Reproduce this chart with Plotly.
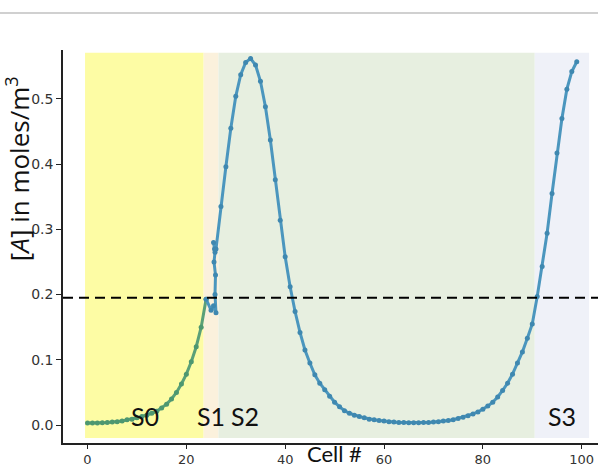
import plotly.graph_objects as go

# ---- data ----
green_x = list(range(0, 25))
green_y = [0.003, 0.003, 0.003, 0.0035, 0.004, 0.0045, 0.005, 0.006, 0.008, 0.009,
           0.011, 0.013, 0.015, 0.018, 0.021, 0.026, 0.032, 0.040, 0.050, 0.063,
           0.078, 0.097, 0.120, 0.150, 0.193]

blue_x = [24, 25, 25.5, 26.0, 25.8, 25.9, 25.6, 25.8, 25.5, 25.7, 26] + list(range(27, 100))
blue_y = [0.193, 0.176, 0.183, 0.172, 0.20, 0.23, 0.25, 0.265, 0.28, 0.27, 0.27,
          0.335, 0.396, 0.455, 0.504, 0.537, 0.556, 0.562, 0.552, 0.527, 0.488,
          0.437, 0.376, 0.314, 0.258, 0.212, 0.174, 0.142, 0.115, 0.095, 0.077,
          0.064, 0.054, 0.044, 0.035, 0.028, 0.022, 0.018, 0.015, 0.013, 0.011,
          0.009, 0.008, 0.007, 0.006, 0.005, 0.0045, 0.004, 0.0037, 0.0035, 0.0035,
          0.0035, 0.0037, 0.004, 0.0045, 0.005, 0.006, 0.007, 0.008, 0.010, 0.012,
          0.014, 0.017, 0.020, 0.024, 0.029, 0.035, 0.043, 0.053, 0.064, 0.078,
          0.095, 0.112, 0.133, 0.155, 0.197, 0.243, 0.294, 0.355, 0.417, 0.470,
          0.515, 0.542, 0.557]

threshold = 0.195

region_names = ["S0", "S1", "S2", "S3"]
region_bounds = [(-0.5, 23.5), (23.5, 26.5), (26.5, 90.5), (90.5, 101.5)]
region_colors = ["#fdfca4", "#fbf1dc", "#e7efe0", "#eff1f8"]
label_x = [11.6, 25.0, 31.8, 96.1]
label_y = 0.0138

x_ticks = [0, 20, 40, 60, 80, 100]
y_ticks = [0.0, 0.1, 0.2, 0.3, 0.4, 0.5]

fig = go.Figure()

shapes = []
for (x0, x1), c in zip(region_bounds, region_colors):
    shapes.append(dict(type="rect", xref="x", yref="y", x0=x0, x1=x1, y0=-0.02, y1=0.5706,
                       fillcolor=c, line=dict(width=0), layer="below"))
shapes.append(dict(type="line", xref="paper", yref="y", x0=0, x1=1, y0=threshold, y1=threshold,
                   line=dict(color="black", width=2, dash="10px,6px")))
shapes.append(dict(type="line", xref="paper", yref="paper", x0=-0.12, x1=1, y0=1.094, y1=1.094,
                   line=dict(color="#c0c0c0", width=1.5)))

fig.add_trace(go.Scatter(x=green_x, y=green_y, mode="lines+markers",
                         line=dict(color="#5aa078", width=3),
                         marker=dict(color="#4d9770", size=5), showlegend=False))
fig.add_trace(go.Scatter(x=blue_x, y=blue_y, mode="lines+markers",
                         line=dict(color="#4b96be", width=3),
                         marker=dict(color="#3f88b0", size=5), showlegend=False))

annotations = []
for name, lx in zip(region_names, label_x):
    annotations.append(dict(x=lx, y=label_y, xref="x", yref="y", text=name, showarrow=False,
                            font=dict(family="Lato", size=25, color="#111111"),
                            xanchor="center", yanchor="middle"))
annotations.append(dict(x=0.507, y=-0.026, xref="paper", yref="paper", text="Cell #",
                        showarrow=False, font=dict(family="Lato", size=22, color="#111111"),
                        xanchor="center", yanchor="middle"))
annotations.append(dict(x=-0.085, y=0.698, xref="paper", yref="paper",
                        text="[<i>A</i>] in moles/m<sup>3</sup>", textangle=-90,
                        showarrow=False, font=dict(family="Open Sans", size=26, color="#111111"),
                        xanchor="center", yanchor="middle"))

fig.update_layout(
    width=598, height=466,
    margin=dict(l=63, r=0, t=50, b=23),
    paper_bgcolor="white", plot_bgcolor="white",
    shapes=shapes, annotations=annotations,
    xaxis=dict(range=[-4.96, 103.3], tickvals=x_ticks, showgrid=False, zeroline=False,
               showline=True, linecolor="#222222", linewidth=1.5, ticks="outside",
               ticklen=4, tickcolor="#222222", automargin=False,
               tickfont=dict(family="DejaVu Sans", size=13, color="#333333")),
    yaxis=dict(range=[-0.0276, 0.575], tickvals=y_ticks, tickformat=".1f", showgrid=False,
               zeroline=False, showline=True, linecolor="#222222", linewidth=1.5,
               ticks="outside", ticklen=5, tickcolor="#222222", automargin=False,
               tickfont=dict(family="DejaVu Sans", size=14, color="#333333")),
)

fig.write_html("out.html")
